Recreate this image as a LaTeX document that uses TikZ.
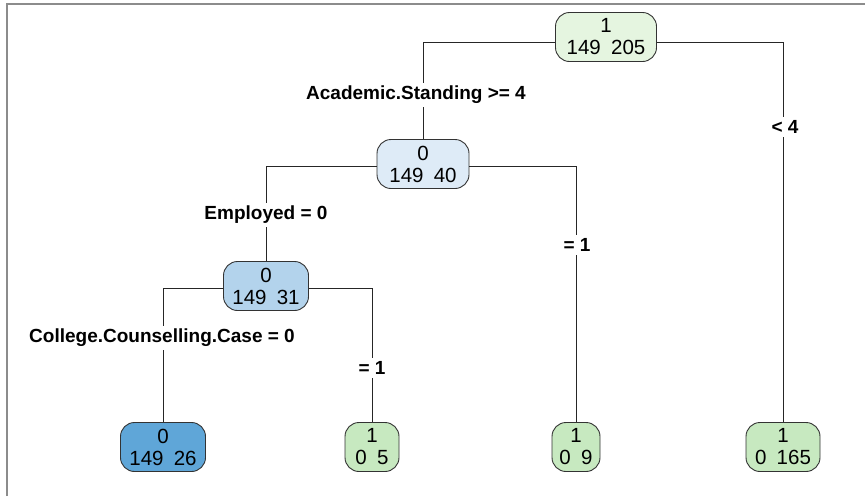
\documentclass[tikz,border=0pt]{standalone}
\usepackage{fontspec}
\setmainfont{Liberation Sans}
\begin{document}
\begin{tikzpicture}[x=1pt,y=-1pt,
  tbox/.style={draw=black!80, line width=0.9pt, rounded corners=14pt,
    inner sep=0pt, align=center, font=\fontsize{20.5}{22}\selectfont,
    minimum height=49pt},
  split/.style={fill=white, inner sep=3pt, font=\bfseries\fontsize{19}{21}\selectfont},
  edge/.style={draw=black!85, line width=0.8pt}]
\useasboundingbox (0,0) rectangle (865,496);
% frame
\draw[gray!90, line width=1.6pt] (7,496) -- (7,4) -- (865,4);

% colours
\definecolor{gA}{HTML}{E5F5E0}
\definecolor{gB}{HTML}{C7E9C0}
\definecolor{bA}{HTML}{DEEBF7}
\definecolor{bB}{HTML}{B3D3EC}
\definecolor{bC}{HTML}{5FA6D8}

% tree boxes
\node[tbox, fill=gA, minimum width=101pt] (root) at (606,37) {1\\149\enspace 205};
\node[tbox, fill=bA, minimum width=92pt] (n2) at (423,164) {0\\149\enspace 40};
\node[tbox, fill=bB, minimum width=85pt] (n3) at (266,286) {0\\149\enspace 31};
\node[tbox, fill=bC, minimum width=85pt] (l1) at (163,447) {0\\149\enspace 26};
\node[tbox, fill=gB, minimum width=54pt] (l2) at (372,447) {1\\0\enspace 5};
\node[tbox, fill=gB, minimum width=48pt] (l3) at (576,447) {1\\0\enspace 9};
\node[tbox, fill=gB, minimum width=74pt] (l4) at (783,447) {1\\0\enspace 165};

% branches
\draw[edge] ([yshift=-5pt]root.west) -| (n2.north);
\draw[edge] ([yshift=-5pt]root.east) -| (l4.north);
\draw[edge] ([yshift=-2pt]n2.west) -| (n3.north);
\draw[edge] ([yshift=-2pt]n2.east) -| (l3.north);
\draw[edge] ([yshift=-2pt]n3.west) -| (l1.north);
\draw[edge] ([yshift=-2pt]n3.east) -| (l2.north);

% split labels
\node[split] (s1) at (416,95) {Academic.Standing >= 4};
\node[split] (s2) at (785,127) {< 4};
\node[split] (s3) at (266,215) {Employed = 0};
\node[split] (s4) at (577,245) {= 1};
\node[split] (s5) at (162,338) {College.Counselling.Case = 0};
\node[split] (s6) at (372,368) {= 1};
\end{tikzpicture}
\end{document}
